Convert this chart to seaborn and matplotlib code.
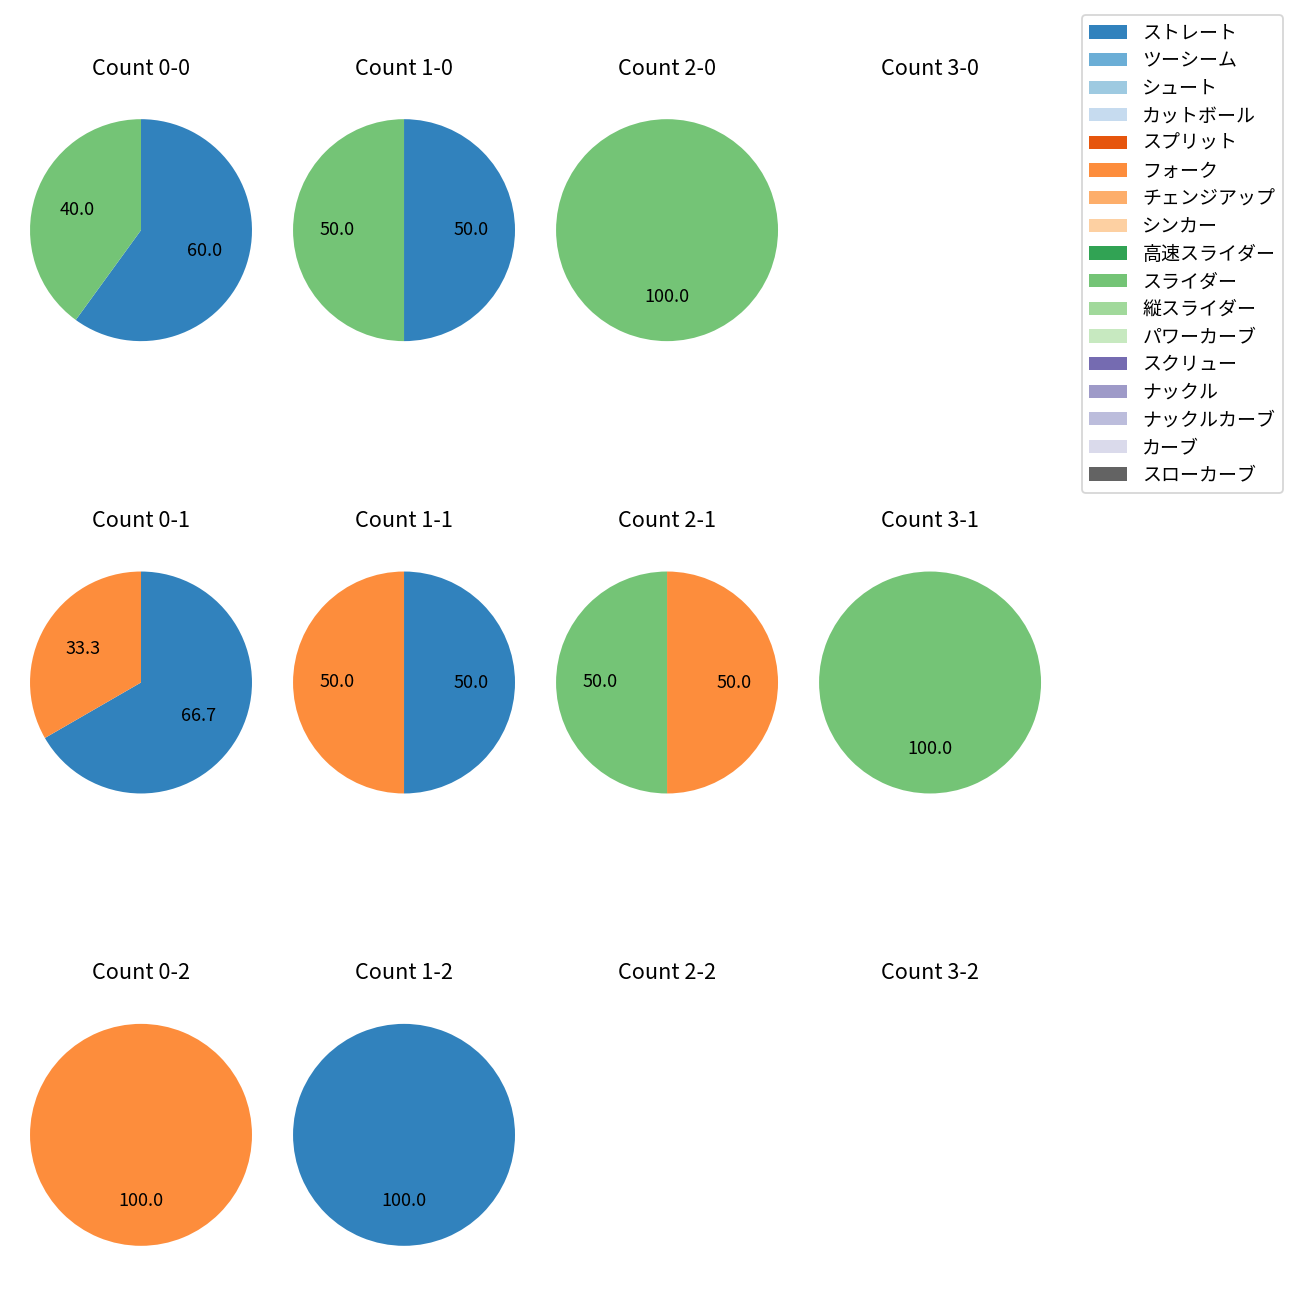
import matplotlib
matplotlib.use("Agg")
import matplotlib.pyplot as plt
from matplotlib.patches import Patch
import seaborn as sns

sns.set_style("white")
plt.rcParams['font.family'] = ['Noto Sans CJK JP', 'DejaVu Sans']
plt.rcParams['text.color'] = 'black'

pitch_types = ["ストレート", "ツーシーム", "シュート", "カットボール", "スプリット", "フォーク",
               "チェンジアップ", "シンカー", "高速スライダー", "スライダー", "縦スライダー",
               "パワーカーブ", "スクリュー", "ナックル", "ナックルカーブ", "カーブ", "スローカーブ"]
palette = sns.color_palette("tab20c", 17)

# pitch counts per ball-strike count (only non-zero types)
count_0_0 = {"ストレート": 3, "スライダー": 2}
count_1_0 = {"ストレート": 1, "スライダー": 1}
count_2_0 = {"スライダー": 1}
count_3_0 = {}
count_0_1 = {"ストレート": 2, "フォーク": 1}
count_1_1 = {"ストレート": 1, "フォーク": 1}
count_2_1 = {"フォーク": 1, "スライダー": 1}
count_3_1 = {"スライダー": 1}
count_0_2 = {"フォーク": 1}
count_1_2 = {"ストレート": 1}
count_2_2 = {}
count_3_2 = {}

grid = [
    [("0-0", count_0_0), ("1-0", count_1_0), ("2-0", count_2_0), ("3-0", count_3_0)],
    [("0-1", count_0_1), ("1-1", count_1_1), ("2-1", count_2_1), ("3-1", count_3_1)],
    [("0-2", count_0_2), ("1-2", count_1_2), ("2-2", count_2_2), ("3-2", count_3_2)],
]

fig, axes = plt.subplots(3, 4, figsize=(10, 10), dpi=130)
fig.subplots_adjust(left=0.0231, right=0.8008, top=0.9342, bottom=0.0158,
                    wspace=0.185, hspace=0.564)

for r, row in enumerate(grid):
    for c, (name, data) in enumerate(row):
        ax = axes[r][c]
        ax.set_title(f"Count {name}", fontsize=12, color='black')
        if data:
            labels = [p for p in pitch_types if data.get(p, 0) > 0]
            vals = [data[p] for p in labels]
            cols = [palette[pitch_types.index(p)] for p in labels]
            ax.pie(vals, colors=cols, startangle=90, counterclock=False,
                   autopct='%.1f', pctdistance=0.6,
                   wedgeprops={'linewidth': 0},
                   textprops={'fontsize': 10, 'color': 'black'})
            ax.set_xlim(-1, 1)
            ax.set_ylim(-1, 1)
            ax.set_aspect('equal', adjustable='datalim')
        ax.axis('off')

handles = [Patch(facecolor=palette[i], edgecolor='none', label=p) for i, p in enumerate(pitch_types)]
fig.legend(handles=handles, loc='upper right', bbox_to_anchor=(0.9869, 0.9885),
           borderaxespad=0, fontsize=10.5, labelspacing=0.35)

fig.savefig("out.png", dpi=130)
